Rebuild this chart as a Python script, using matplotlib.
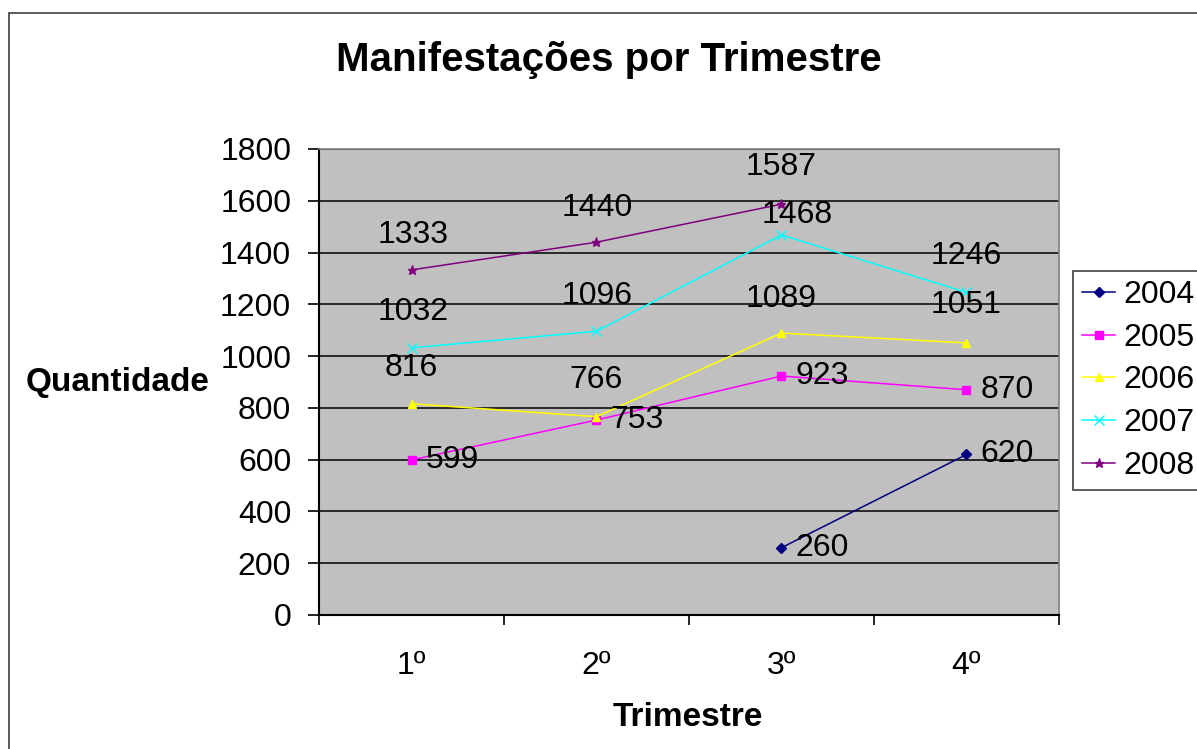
import matplotlib.pyplot as plt
from matplotlib.patches import Rectangle
import numpy as np

plt.rcParams['font.family'] = ['Liberation Sans', 'DejaVu Sans']

W, H = 1197, 749

#data
trimestres = ['1º', '2º', '3º', '4º']
anos = ['2004', '2005', '2006', '2007', '2008']
v2004 = [None, None, 260, 620]
v2005 = [599, 753, 923, 870]
v2006 = [816, 766, 1089, 1051]
v2007 = [1032, 1096, 1468, 1246]
v2008 = [1333, 1440, 1587, None]
series = [v2004, v2005, v2006, v2007, v2008]

cores = ['#000080', '#FF00FF', '#FFFF00', '#00FFFF', '#800080']
marcas = ['D', 's', '^', 'x', '*']
# label offset in pixels for each point (dx, dy, ha)
desloc = [
    [None, None, (14, 0, 'left'), (14, 0, 'left')],
    [(14, 0, 'left'), (14, 0, 'left'), (14, 0, 'left'), (14, 0, 'left')],
    [(0, 36, 'center'), (0, 37, 'center'), (0, 34, 'center'), (0, 38, 'center')],
    [(2, 36, 'center'), (1, 35, 'center'), (16, 20, 'center'), (0, 36, 'center')],
    [(2, 35, 'center'), (1, 34, 'center'), (0, 37, 'center'), None],
]

fs = 23

fig = plt.figure(figsize=(W/100, H/100), dpi=100)
fig.patch.set_facecolor('white')

#outer chart border
fig.patches.append(Rectangle((9/W, -0.2), 1.2, 1.2 - 13/H, transform=fig.transFigure,
                             fill=False, edgecolor='#404040', linewidth=1.2))

ax = fig.add_axes([319/W, (H-615)/H, 740/W, 466/H])
ax.set_facecolor('#C0C0C0')
ax.set_xlim(0.5, 4.5)
ax.set_ylim(0, 1800)
ax.set_yticks(np.arange(0, 1801, 200))
ax.grid(axis='y', color='black', linewidth=1.1)
ax.set_axisbelow(True)

x = np.arange(1, 5)
for nome, vals, cor, m, offs in zip(anos, series, cores, marcas, desloc):
    xs = [xi for xi, v in zip(x, vals) if v is not None]
    ys = [v for v in vals if v is not None]
    ms = 5.5 if m in ('D', 's', '^') else 6.5
    ax.plot(xs, ys, color=cor, marker=m, markersize=ms, linewidth=1.1, label=nome,
            markeredgewidth=1.0)
    for xi, v, o in zip(x, vals, offs):
        if v is None:
            continue
        ax.annotate(str(v), (xi, v), xytext=(o[0], o[1]), textcoords='offset pixels',
                    ha=o[2], va='center', fontsize=fs, color='black')

ax.set_xticks(x)
ax.set_xticklabels(trimestres, fontsize=fs)
ax.set_xticks(np.arange(0.5, 4.6, 1), minor=True)
ax.tick_params(axis='x', which='major', length=0, pad=26)
ax.tick_params(axis='x', which='minor', length=7, width=1.2, direction='out')
ax.tick_params(axis='y', labelsize=fs, length=8, width=1.2, pad=12)

for s in ['top', 'right']:
    ax.spines[s].set_color('#808080')
    ax.spines[s].set_linewidth(1.2)
for s in ['left', 'bottom']:
    ax.spines[s].set_color('black')
    ax.spines[s].set_linewidth(1.5)

fig.text(609/W, 1-60/H, 'Manifestações por Trimestre', ha='center', va='center',
         fontsize=29, fontweight='bold')
fig.text(118/W, 1-383/H, 'Quantidade', ha='center', va='center',
         fontsize=24, fontweight='bold')
fig.text(688/W, 1-717/H, 'Trimestre', ha='center', va='center',
         fontsize=24, fontweight='bold')

leg = ax.legend(loc='upper left', bbox_to_anchor=(1073/W, 1-271/H),
                bbox_transform=fig.transFigure, fontsize=fs, frameon=True,
                fancybox=False, edgecolor='#404040', framealpha=1,
                handlelength=1.05, handletextpad=0.25, labelspacing=0.4,
                borderpad=0.28, borderaxespad=0)
leg.get_frame().set_linewidth(1.2)

fig.savefig('out.png', dpi=100)
